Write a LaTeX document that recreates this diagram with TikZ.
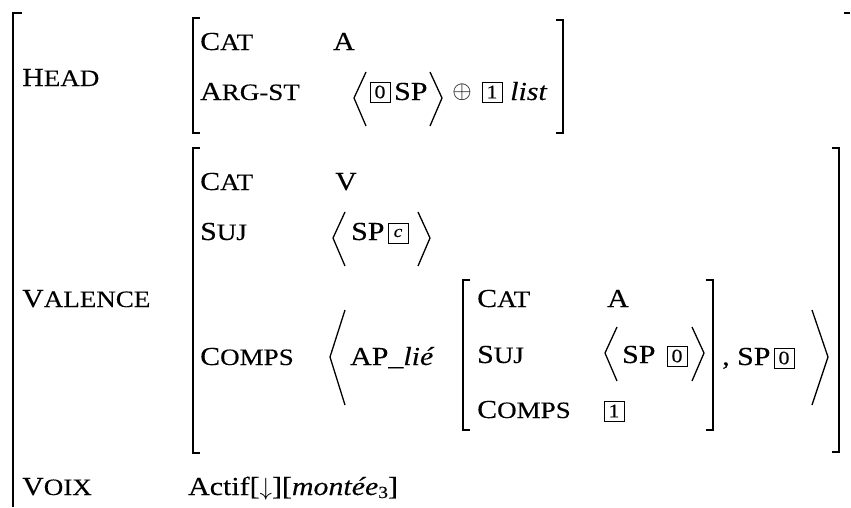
\documentclass[tikz,border=0pt]{standalone}
\usepackage{fontspec}
\setmainfont[FakeStretch=1.15,FakeBold=0.25]{Liberation Serif}
\newcommand{\smc}[2]{#1{\fontsize{23.5}{25}\selectfont #2}}
\begin{document}
\begin{tikzpicture}[x=1pt,y=-1pt,
  lbl/.style={anchor=base west, inner sep=0pt, font=\fontsize{26}{30}\selectfont},
  tagb/.style={draw, line width=1pt, inner sep=0pt, minimum width=20pt, minimum height=20pt, font=\fontsize{19}{19}\selectfont},
  brk/.style={line width=1.8pt},
  ang/.style={line width=1.3pt}]
\useasboundingbox (0,0) rectangle (851,507);
% outer bracket
\draw[brk] (22,13) -- (13,13) -- (13,507);
\draw[brk] (844,13) -- (850,13);
% HEAD
\node[lbl] (head) at (22,86) {\smc{H}{EAD}};
\draw[brk] (200,18) -- (193,18) -- (193,133) -- (200,133);
\draw[brk] (556,20) -- (563,20) -- (563,133) -- (556,133);
\node[lbl] (hcat) at (200,50) {\smc{C}{AT}};
\node[lbl] (hcatv) at (333,50) {A};
\node[lbl] (harg) at (200,100) {\smc{A}{RG-ST}};
\draw[ang] (366,72) -- (354,98) -- (366,126);
\node[tagb] (t0a) at (380,92) {0};
\node[lbl] (hsp) at (394,100) {SP};
\draw[ang] (430,72) -- (442,98) -- (430,126);
\node[inner sep=0pt, font=\fontsize{28}{28}\selectfont] (oplus) at (462,92) {$\oplus$};
\node[tagb] (t1a) at (492,92) {1};
\node[lbl] (list) at (510,100) {\textit{list}};
% VALENCE
\node[lbl] (val) at (22,307) {\smc{V}{ALENCE}};
\draw[brk] (200,148) -- (193,148) -- (193,453) -- (200,453);
\draw[brk] (832,148) -- (839,148) -- (839,452) -- (832,452);
\node[lbl] (vcat) at (200,190) {\smc{C}{AT}};
\node[lbl] (vcatv) at (335,190) {V};
\node[lbl] (vsuj) at (200,240) {\smc{S}{UJ}};
\draw[ang] (345,212) -- (333,238) -- (345,266);
\node[lbl] (vsp) at (351,240) {SP};
\node[tagb] (tc) at (398,233) {\fontsize{17}{17}\selectfont\textit{c}};
\draw[ang] (418,212) -- (430,238) -- (418,266);
\node[lbl] (vcomps) at (200,365) {\smc{C}{OMPS}};
\draw[ang] (345,310) -- (330,357) -- (345,405);
\node[lbl] (ap) at (350,365) {AP\_\textit{lié}};
% inner AVM
\draw[brk] (470,280) -- (463,280) -- (463,430) -- (470,430);
\draw[brk] (706,280) -- (713,280) -- (713,430) -- (706,430);
\node[lbl] (icat) at (477,307) {\smc{C}{AT}};
\node[lbl] (icatv) at (607,307) {A};
\node[lbl] (isuj) at (477,363) {\smc{S}{UJ}};
\draw[ang] (617,327) -- (605,353) -- (617,381);
\node[lbl] (isp) at (622,363) {SP};
\node[tagb] (t0b) at (677,356) {0};
\draw[ang] (692,327) -- (704,353) -- (692,381);
\node[lbl] (icomps) at (477,418) {\smc{C}{OMPS}};
\node[tagb] (t1b) at (614,411) {1};
\node[lbl] (comma) at (722,365) {, SP};
\node[tagb] (t0c) at (784,358) {0};
\draw[ang] (812,310) -- (828,357) -- (812,405);
% VOIX
\node[lbl] (voix) at (22,495) {\smc{V}{OIX}};
\node[lbl] (actif) at (188,495) {Actif[$\downarrow$][\textit{montée}\raisebox{-3pt}{\fontsize{17}{17}\selectfont 3}]};
\end{tikzpicture}
\end{document}
